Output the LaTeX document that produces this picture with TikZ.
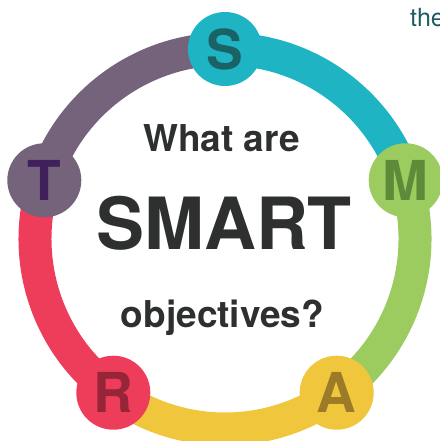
\documentclass[tikz,border=0pt]{standalone}
\usepackage{fontspec}
\setmainfont{TeX Gyre Heros}
\usetikzlibrary{backgrounds}

\definecolor{sCyan}{HTML}{1FB4C4}
\definecolor{sCyanDark}{HTML}{1B6266}
\definecolor{mGreen}{HTML}{9CCB5F}
\definecolor{mGreenDark}{HTML}{5E8B3A}
\definecolor{aYellow}{HTML}{F0C63C}
\definecolor{aYellowDark}{HTML}{9C7B28}
\definecolor{rRed}{HTML}{EE3D5B}
\definecolor{rRedDark}{HTML}{962538}
\definecolor{tPurple}{HTML}{74637A}
\definecolor{tPurpleDark}{HTML}{40205A}
\definecolor{textgray}{HTML}{2E3030}
\definecolor{theteal}{HTML}{1E5B63}

\tikzset{
	ring/.style={line width=33pt},
	letter/.style={circle, minimum size=74pt, inner sep=0pt,
		font=\fontsize{55}{55}\selectfont\bfseries},
	heading/.style={anchor=base, text=textgray,
		font=\fontsize{37}{37}\selectfont\bfseries}
}

\begin{document}
\begin{tikzpicture}[x=1pt,y=1pt]
			\useasboundingbox (0,0) rectangle (439,441);
			\coordinate (ctr) at (225,202);

			\node(S) [letter, fill=sCyan, text=sCyanDark] at ([shift={(90:190)}]ctr) {S};
			\node(M) [letter, fill=mGreen, text=mGreenDark] at ([shift={(18:190)}]ctr) {M};
			\node(A) [letter, fill=aYellow, text=aYellowDark] at ([shift={(-54:190)}]ctr) {A};
			\node(R) [letter, fill=rRed, text=rRedDark] at ([shift={(-126:190)}]ctr) {R};
			\node(T) [letter, fill=tPurple, text=tPurpleDark] at ([shift={(162:190)}]ctr) {T};

			\begin{scope}[on background layer]
				\draw[ring, sCyan] (S.center) arc[start angle=90, end angle=18, radius=190];
				\draw[ring, mGreen] (M.center) arc[start angle=18, end angle=-54, radius=190];
				\draw[ring, aYellow] (A.center) arc[start angle=-54, end angle=-126, radius=190];
				\draw[ring, rRed] (R.center) arc[start angle=-126, end angle=-198, radius=190];
				\draw[ring, tPurple] (T.center) arc[start angle=162, end angle=90, radius=190];
			\end{scope}

			\node(whatare) [heading] at (221.5,289) {What are};
			\node(smart) [heading, font=\fontsize{72}{72}\selectfont\bfseries] at (224,191) {SMART};
			\node(objectives) [heading] at (222.5,113) {objectives?};

			\node(the) [anchor=base west, inner sep=0pt, text=theteal,
				font=\fontsize{25}{25}\selectfont] at (410,414) {the};
		\end{tikzpicture}
\end{document}
